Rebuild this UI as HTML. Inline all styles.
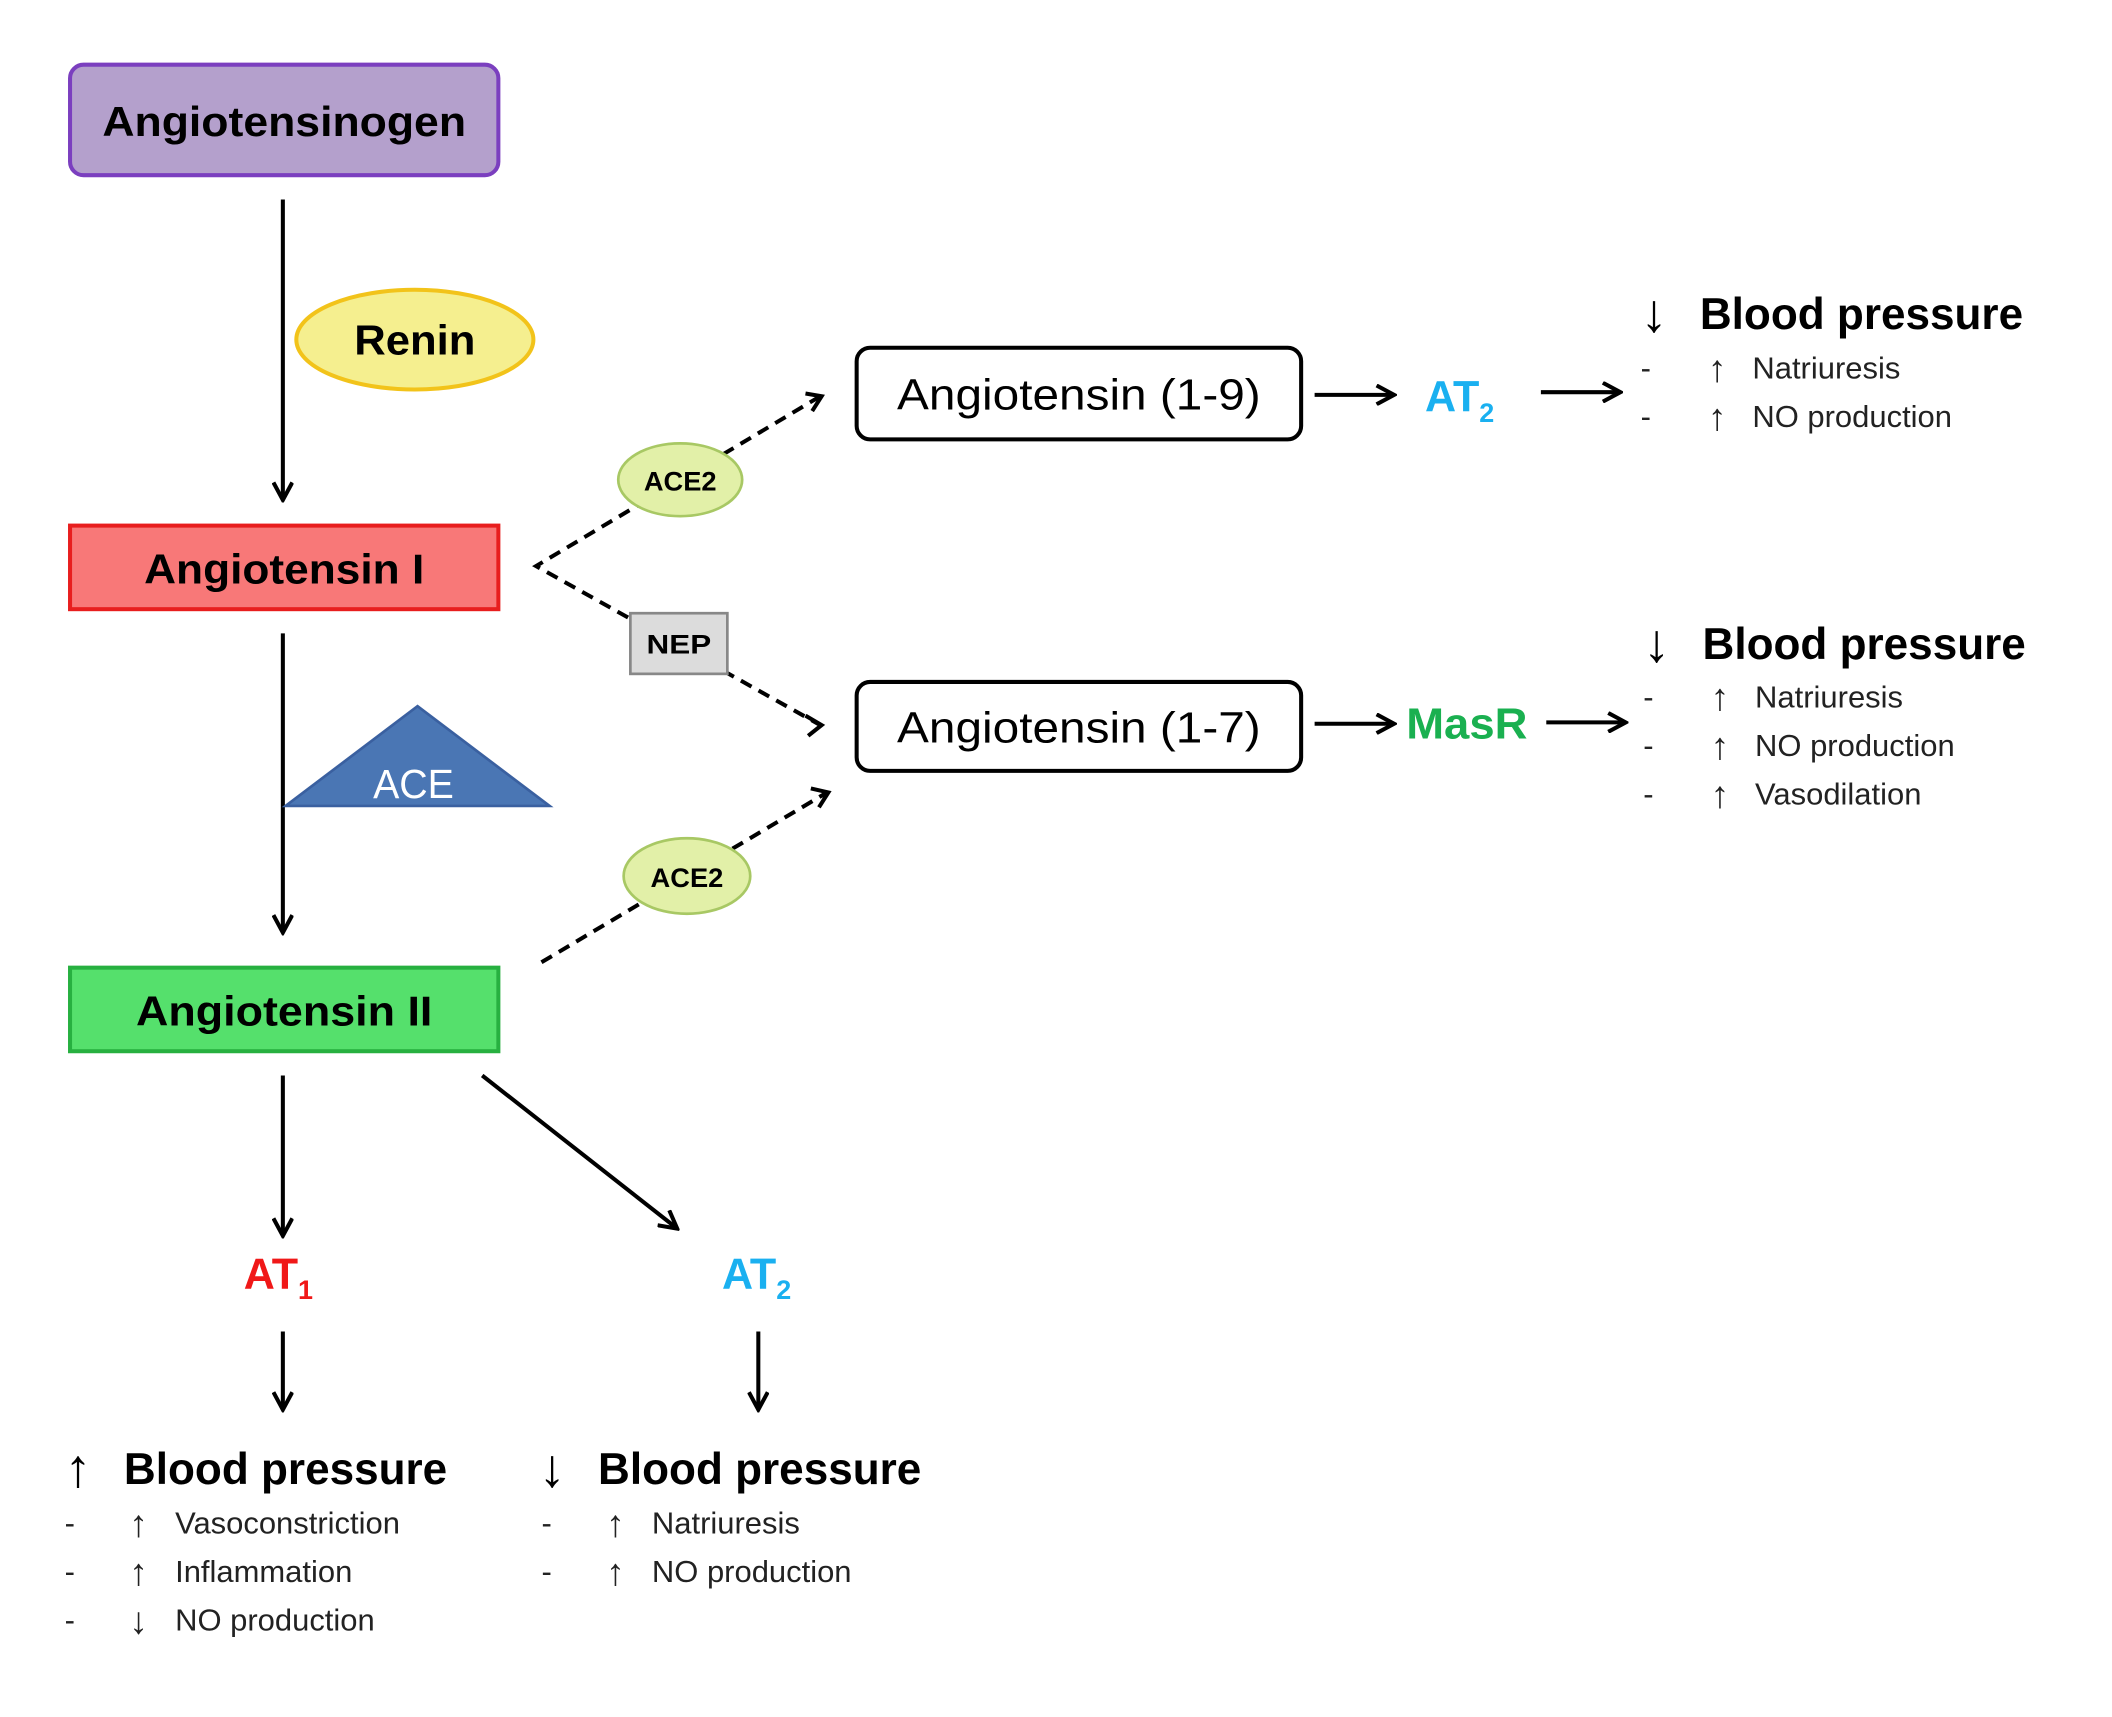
<!DOCTYPE html>
<html><head><meta charset="utf-8"><style>
html,body{margin:0;padding:0;background:#fff;}
svg{display:block;}
text{font-family:"Liberation Sans",sans-serif;}
</style></head><body>
<svg width="2112" height="1717" viewBox="0 0 1568 1274" preserveAspectRatio="none" xmlns="http://www.w3.org/2000/svg">
<defs>
<marker id="b" markerWidth="16" markerHeight="16" refX="13" refY="8" orient="auto" markerUnits="userSpaceOnUse"><path d="M1,1 L14,8 L1,15" fill="none" stroke="#000" stroke-width="3"/></marker>
</defs>
<g stroke="#000" stroke-width="3" fill="none">
<line x1="210" y1="148" x2="210" y2="370" marker-end="url(#b)"/>
<line x1="210" y1="470" x2="210" y2="691" marker-end="url(#b)"/>
<line x1="210" y1="798" x2="210" y2="916" marker-end="url(#b)"/>
<line x1="358" y1="798" x2="502" y2="911" marker-end="url(#b)"/>
<line x1="210" y1="988" x2="210" y2="1045" marker-end="url(#b)"/>
<line x1="563" y1="988" x2="563" y2="1045" marker-end="url(#b)"/>
<line x1="976" y1="293" x2="1034" y2="293" marker-end="url(#b)"/>
<line x1="1144" y1="291" x2="1202" y2="291" marker-end="url(#b)"/>
<line x1="976" y1="537" x2="1034" y2="537" marker-end="url(#b)"/>
<line x1="1148" y1="536" x2="1206" y2="536" marker-end="url(#b)"/>
</g>
<g stroke="#000" stroke-width="3" fill="none" stroke-dasharray="9,6">
<polyline points="609,294 398,420 609,538" />
<line x1="402" y1="714" x2="614" y2="588"/>
</g>
<g stroke="#000" stroke-width="3" fill="none">
<path d="M598,292 L610,294 L603,305"/>
<path d="M598,531 L610,538 L600,546"/>
<path d="M602,585 L615,588 L608,599"/>
</g>
<rect x="52" y="48" width="318" height="82" rx="10" fill="#b4a0cc" stroke="#7b3fbf" stroke-width="3"/>
<text x="211" y="101" font-size="31" font-weight="bold" text-anchor="middle" textLength="270" lengthAdjust="spacingAndGlyphs">Angiotensinogen</text>
<ellipse cx="308" cy="252" rx="88" ry="37" fill="#f5ef8f" stroke="#f2c31a" stroke-width="3"/>
<text x="308" y="263" font-size="31" font-weight="bold" text-anchor="middle" textLength="90" lengthAdjust="spacingAndGlyphs">Renin</text>
<rect x="52" y="390" width="318" height="62" fill="#f87878" stroke="#e81e1e" stroke-width="3"/>
<text x="211" y="433" font-size="31" font-weight="bold" text-anchor="middle" textLength="208" lengthAdjust="spacingAndGlyphs">Angiotensin I</text>
<polygon points="212,598 310,524 408,598" fill="#4a76b4" stroke="#3a60a0" stroke-width="2"/>
<text x="307" y="592" font-size="30" fill="#fff" text-anchor="middle" textLength="60" lengthAdjust="spacingAndGlyphs">ACE</text>
<rect x="52" y="718" width="318" height="62" fill="#55e06c" stroke="#27b040" stroke-width="3"/>
<text x="211" y="761" font-size="31" font-weight="bold" text-anchor="middle" textLength="220" lengthAdjust="spacingAndGlyphs">Angiotensin II</text>
<ellipse cx="505" cy="356" rx="46" ry="27" fill="#e2f0a8" stroke="#a8c864" stroke-width="2"/>
<text x="505" y="364" font-size="20" font-weight="bold" text-anchor="middle" textLength="54" lengthAdjust="spacingAndGlyphs">ACE2</text>
<ellipse cx="510" cy="650" rx="47" ry="28" fill="#e2f0a8" stroke="#a8c864" stroke-width="2"/>
<text x="510" y="658" font-size="20" font-weight="bold" text-anchor="middle" textLength="54" lengthAdjust="spacingAndGlyphs">ACE2</text>
<rect x="468" y="455" width="72" height="45" fill="#dcdcdc" stroke="#888" stroke-width="2"/>
<text x="504" y="485" font-size="20" font-weight="bold" text-anchor="middle" textLength="48" lengthAdjust="spacingAndGlyphs">NEP</text>
<rect x="636" y="258" width="330" height="68" rx="10" fill="#fff" stroke="#000" stroke-width="3"/>
<text x="801" y="304" font-size="32" text-anchor="middle" textLength="270" lengthAdjust="spacingAndGlyphs">Angiotensin (1-9)</text>
<rect x="636" y="506" width="330" height="66" rx="10" fill="#fff" stroke="#000" stroke-width="3"/>
<text x="801" y="551" font-size="32" text-anchor="middle" textLength="270" lengthAdjust="spacingAndGlyphs">Angiotensin (1-7)</text>
<text x="1058" y="305" font-size="32" font-weight="bold" fill="#1ab0f0">AT<tspan font-size="20" dy="8">2</tspan></text>
<text x="1044" y="548" font-size="32" font-weight="bold" fill="#1ab050" textLength="90" lengthAdjust="spacingAndGlyphs">MasR</text>
<text x="181" y="956" font-size="32" font-weight="bold" fill="#f01818">AT<tspan font-size="20" dy="8">1</tspan></text>
<text x="536" y="956" font-size="32" font-weight="bold" fill="#1ab0f0">AT<tspan font-size="20" dy="8">2</tspan></text>
<g font-size="40" font-weight="bold">
<text x="1218" y="246">↓</text>
<text x="1220" y="491">↓</text>
<text x="48" y="1103">↑</text>
<text x="400" y="1103">↓</text>
</g>
<g font-size="33" font-weight="bold">
<text x="1262" y="244" textLength="240" lengthAdjust="spacingAndGlyphs">Blood pressure</text>
<text x="1264" y="489" textLength="240" lengthAdjust="spacingAndGlyphs">Blood pressure</text>
<text x="92" y="1101" textLength="240" lengthAdjust="spacingAndGlyphs">Blood pressure</text>
<text x="444" y="1101" textLength="240" lengthAdjust="spacingAndGlyphs">Blood pressure</text>
</g>
<g font-size="28" fill="#222">
<text x="1268" y="283">↑</text><text x="1268" y="319">↑</text>
<text x="1270" y="527">↑</text><text x="1270" y="563">↑</text><text x="1270" y="599">↑</text>
<text x="96" y="1140">↑</text><text x="96" y="1176">↑</text><text x="96" y="1212">↓</text>
<text x="450" y="1140">↑</text><text x="450" y="1176">↑</text>
</g>
<g font-size="23" fill="#222">
<text x="1218" y="281">-</text><text x="1301" y="281">Natriuresis</text>
<text x="1218" y="317">-</text><text x="1301" y="317">NO production</text>
<text x="1220" y="525">-</text><text x="1303" y="525">Natriuresis</text>
<text x="1220" y="561">-</text><text x="1303" y="561">NO production</text>
<text x="1220" y="597">-</text><text x="1303" y="597">Vasodilation</text>
<text x="48" y="1138">-</text><text x="130" y="1138">Vasoconstriction</text>
<text x="48" y="1174">-</text><text x="130" y="1174">Inflammation</text>
<text x="48" y="1210">-</text><text x="130" y="1210">NO production</text>
<text x="402" y="1138">-</text><text x="484" y="1138">Natriuresis</text>
<text x="402" y="1174">-</text><text x="484" y="1174">NO production</text>
</g>
</svg>
</body></html>
